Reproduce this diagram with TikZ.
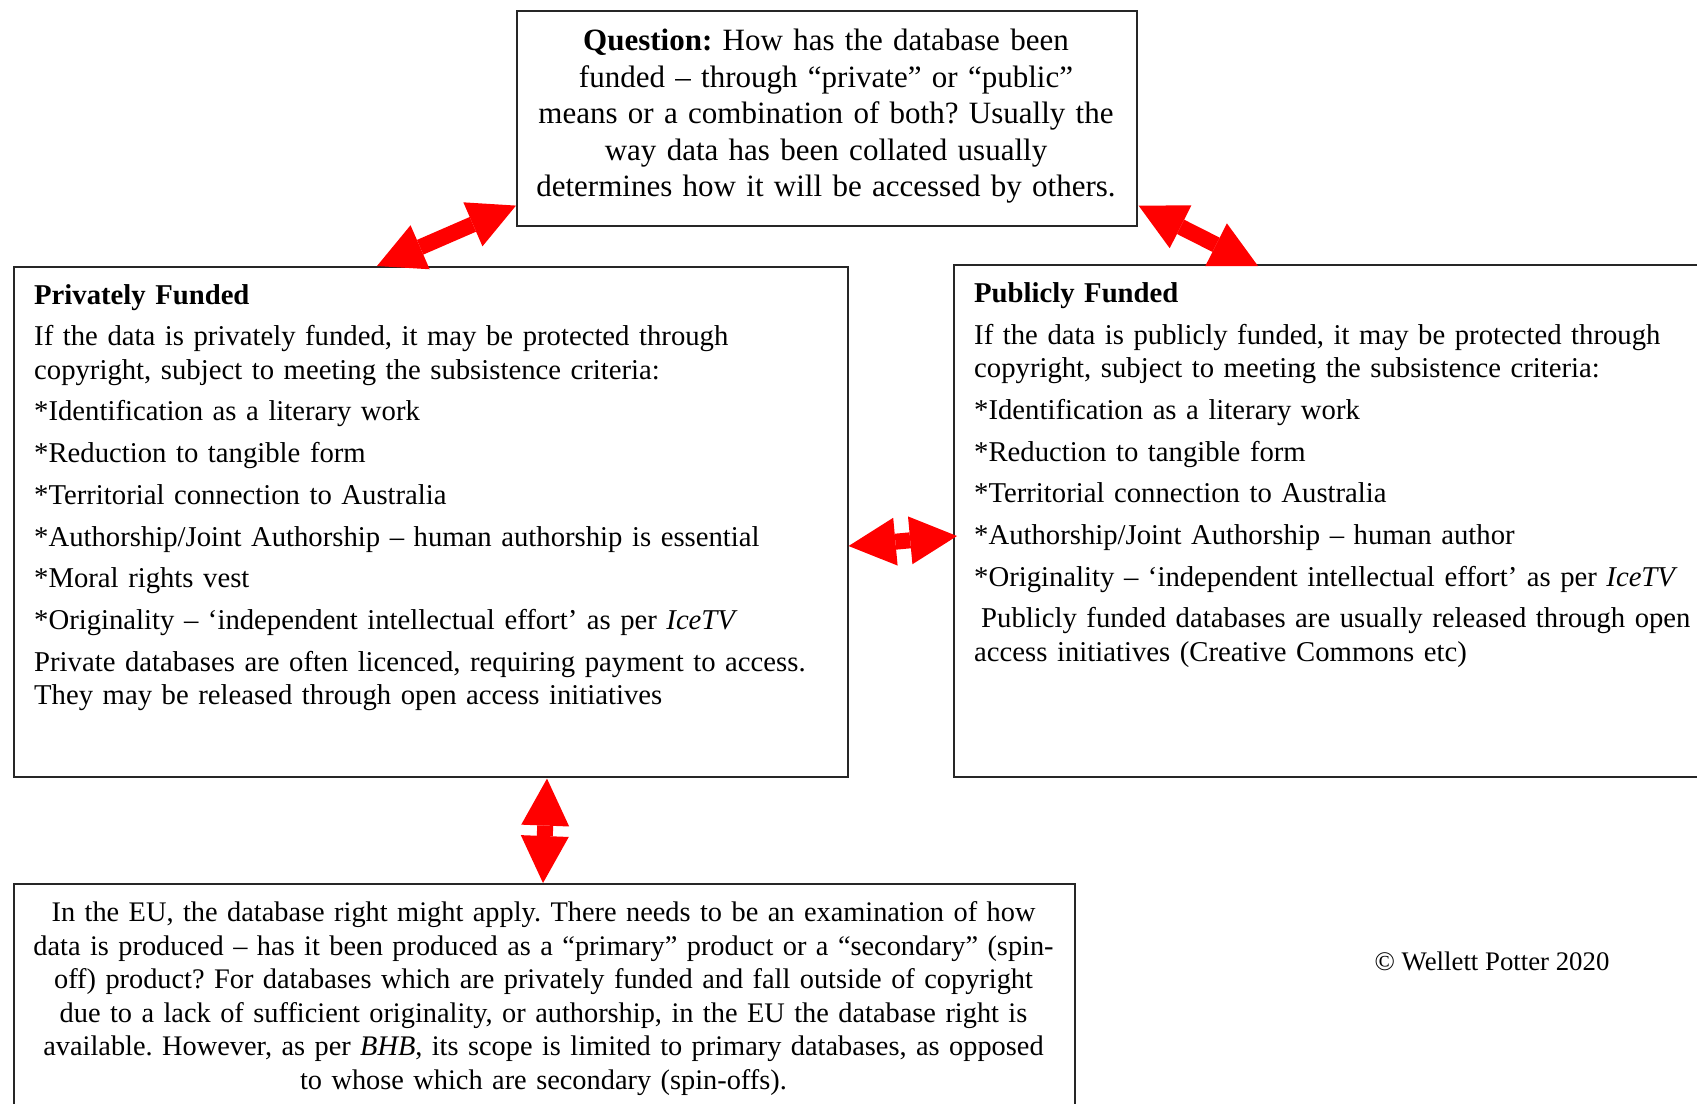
\documentclass[tikz,border=0pt]{standalone}
\usepackage{fontspec}
\setmainfont{Liberation Serif}
\usetikzlibrary{arrows.meta,calc}

\tikzset{
  box/.style={draw=black!85, line width=1.6pt, inner sep=0pt, anchor=north west},
  bodytext/.style={inner sep=0pt, font=\fontsize{28.7}{33.5}\selectfont\frenchspacing},
  dblarrow/.style={draw=red, line width=16pt,
    {Triangle[length=47pt,width=48pt,line width=0pt]}-{Triangle[length=47pt,width=48pt,line width=0pt]}}
}

\begin{document}
\begin{tikzpicture}[x=1pt,y=-1pt]
\useasboundingbox (0,0) rectangle (1697,1103);

% boxes
\node[box, minimum width=620pt, minimum height=215pt] (q) at (516,10) {};
\node[box, minimum width=834pt, minimum height=510pt] (priv) at (13,266) {};
\node[box, minimum width=800pt, minimum height=512pt] (pub) at (953,264) {};
\node[box, minimum width=1061pt, minimum height=260pt] (eu) at (13,883) {};

% question
\node[inner sep=0pt, font=\fontsize{31}{36.5}\selectfont\frenchspacing, text width=640pt, align=center, anchor=base] (qtext) at (826,50.7)
{\textbf{Question:} How has the database been\\
funded – through “private” or “public”\\
means or a combination of both? Usually the\\
way data has been collated usually\\
determines how it will be accessed by others.};

% privately funded
\node[bodytext, text width=800pt, align=left, anchor=base west] (privtext) at (34,304)
{\textbf{Privately Funded}\\[8.2pt]
If the data is privately funded, it may be protected through\\
copyright, subject to meeting the subsistence criteria:\\[8.2pt]
*Identification as a literary work\\[8.2pt]
*Reduction to tangible form\\[8.2pt]
*Territorial connection to Australia\\[8.2pt]
*Authorship/Joint Authorship – human authorship is essential\\[8.2pt]
*Moral rights vest\\[8.2pt]
*Originality – ‘independent intellectual effort’ as per \textit{IceTV}\\[8.2pt]
Private databases are often licenced, requiring payment to access.\\
They may be released through open access initiatives};

% publicly funded
\node[bodytext, text width=760pt, align=left, anchor=base west] (pubtext) at (974,302.5)
{\textbf{Publicly Funded}\\[8.2pt]
If the data is publicly funded, it may be protected through\\
copyright, subject to meeting the subsistence criteria:\\[8.2pt]
*Identification as a literary work\\[8.2pt]
*Reduction to tangible form\\[8.2pt]
*Territorial connection to Australia\\[8.2pt]
*Authorship/Joint Authorship – human author\\[8.2pt]
*Originality – ‘independent intellectual effort’ as per \textit{IceTV}\\[8.2pt]
\hspace*{7pt}Publicly funded databases are usually released through open\\
access initiatives (Creative Commons etc)};

% EU database right
\node[bodytext, font=\fontsize{28.35}{33.5}\selectfont\frenchspacing, text width=1100pt, align=center, anchor=base] (eutext) at (543.5,921.5)
{In the EU, the database right might apply. There needs to be an examination of how\\
data is produced – has it been produced as a “primary” product or a “secondary” (spin-\\
off) product? For databases which are privately funded and fall outside of copyright\\
due to a lack of sufficient originality, or authorship, in the EU the database right is\\
available. However, as per \textit{BHB}, its scope is limited to primary databases, as opposed\\
to whose which are secondary (spin-offs).};

% copyright note
\node[inner sep=0pt, font=\fontsize{26.8}{30.8}\selectfont, anchor=base] (credit) at (1492,970) {© Wellett Potter 2020};

% double-headed arrows between the boxes
\draw[dblarrow] ($(priv.north west)+(364,0)$) -- ($(q.south west)+(0,-21)$);
\draw[dblarrow] ($(q.south east)+(1,-21)$) -- ($(pub.north west)+(305,2)$);
\draw[dblarrow] ($(priv.north east)+(0,280)$) -- ($(pub.north west)+(4,272)$);
\draw[dblarrow] ($(priv.south west)+(534,1)$) -- ($(eu.north west)+(530,0)$);
\end{tikzpicture}
\end{document}
